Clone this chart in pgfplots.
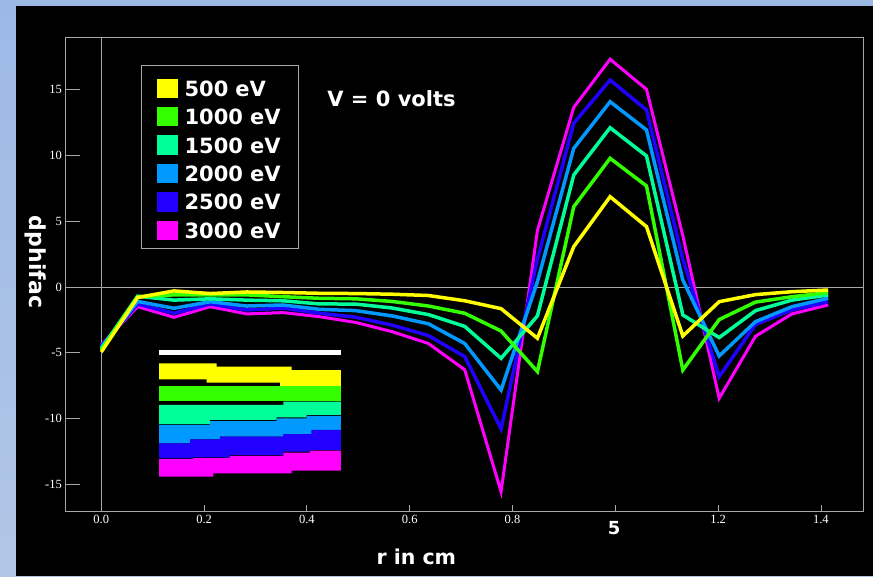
\documentclass[border=0pt]{standalone}
\usepackage{pgfplots}
\pgfplotsset{compat=1.18}
\usepackage{fontspec}
\setmainfont{DejaVu Sans}
\newfontfamily\tickfont{Liberation Serif}
\definecolor{cY}{HTML}{FFFF00}
\definecolor{cG}{HTML}{33FF00}
\definecolor{cS}{HTML}{00FF99}
\definecolor{cA}{HTML}{0099FF}
\definecolor{cB}{HTML}{2200FF}
\definecolor{cM}{HTML}{FF00FF}
\definecolor{bordtop}{HTML}{9CB9E6}
\definecolor{bordbot}{HTML}{B2C6E6}
\definecolor{framec}{HTML}{A8A8A8}
\begin{document}
\begin{tikzpicture}
\useasboundingbox (0,0) rectangle (873pt,576pt);
\shade[top color=bordtop, bottom color=bordbot] (0,0) rectangle (873pt,576pt);
\fill[black] (16pt,0) rectangle (873pt,570pt);
\begin{axis}[
  at={(65.3pt,64.3pt)}, anchor=south west, scale only axis,
  width=798pt, height=474.4pt,
  xmin=-0.07, xmax=1.4825, ymin=-17.1, ymax=19.0,
  axis line style={draw=framec, line width=0.8pt},
  tick style={draw=framec, line width=0.8pt},
  xtick={0,0.2,0.4,0.6,0.8,1.0,1.2,1.4},
  xticklabels={0.0,0.2,0.4,0.6,0.8,{},1.2,1.4},
  ytick={-15,-10,-5,0,5,10,15},
  yticklabels={-15,-10,-5,0,5,10,15},
  tick pos=left,
  major tick length=15pt,
  xtick style={/pgfplots/major tick length=7pt},
  tick label style={font=\tickfont\fontsize{12.5}{13}\selectfont, text=white},
  extra x ticks={0}, extra x tick labels={},
  extra y ticks={0}, extra y tick labels={},
  extra tick style={grid=major, major grid style={draw=framec, line width=0.8pt}, tick style={draw=none}},
  reverse legend,
  legend image code/.code={\fill[#1] (0pt,0pt) rectangle (18pt,16pt);},
  legend style={at={(0.0945,0.9416)}, anchor=north west, draw=framec, line width=0.8pt,
    fill=black, text=white, inner xsep=15.5pt, inner ysep=9pt, row sep=4.6pt,
    font=\bfseries\fontsize{21}{21}\selectfont,
    nodes={text height=22pt, text depth=0pt, inner sep=0pt, text width=98pt, align=left, anchor=base west},
    /tikz/every odd column/.append style={column sep=6.5pt}},
  every axis plot/.append style={line join=miter, miter limit=10},
]
% colour patch artefact
\addplot[fill=white, draw=none, forget plot] coordinates {(0.1123,-4.79) (0.4663,-4.79) (0.4663,-5.175) (0.1123,-5.175)} -- cycle;
\addplot[fill=cY, draw=none, forget plot] coordinates {(0.1123,-5.81) (0.2245,-5.81) (0.2245,-6.06) (0.3704,-6.06) (0.3704,-6.32) (0.4663,-6.32) (0.4663,-7.53) (0.3477,-7.53) (0.3477,-7.28) (0.2051,-7.28) (0.2051,-7.03) (0.1123,-7.03)} -- cycle;
\addplot[fill=cG, draw=none, forget plot] coordinates {(0.1123,-7.53) (0.4663,-7.53) (0.4663,-8.70) (0.1123,-8.70)} -- cycle;
\addplot[fill=cS, draw=none, forget plot] coordinates {(0.1123,-8.98) (0.3541,-8.98) (0.3541,-8.73) (0.4663,-8.73) (0.4663,-9.74) (0.3996,-9.74) (0.3996,-9.92) (0.3412,-9.92) (0.3412,-10.12) (0.2115,-10.12) (0.2115,-10.43) (0.1123,-10.43)} -- cycle;
\addplot[fill=cA, draw=none, forget plot] coordinates {(0.1123,-10.50) (0.2115,-10.50) (0.2115,-10.2) (0.3412,-10.2) (0.3412,-10.0) (0.3996,-10.0) (0.3996,-9.8) (0.4663,-9.8) (0.4663,-10.88) (0.4093,-10.88) (0.4093,-11.19) (0.3541,-11.19) (0.3541,-11.39) (0.2309,-11.39) (0.2309,-11.59) (0.1726,-11.59) (0.1726,-11.90) (0.1123,-11.90)} -- cycle;
\addplot[fill=cB, draw=none, forget plot] coordinates {(0.1123,-11.90) (0.1726,-11.90) (0.1726,-11.59) (0.2309,-11.59) (0.2309,-11.39) (0.3541,-11.39) (0.3541,-11.19) (0.4093,-11.19) (0.4093,-10.88) (0.4663,-10.88) (0.4663,-12.40) (0.4061,-12.40) (0.4061,-12.53) (0.3541,-12.53) (0.3541,-12.79) (0.2504,-12.79) (0.2504,-12.96) (0.1790,-12.96) (0.1790,-13.04) (0.1123,-13.04)} -- cycle;
\addplot[fill=cM, draw=none, forget plot] coordinates {(0.1123,-13.10) (0.1790,-13.10) (0.1790,-13.02) (0.2504,-13.02) (0.2504,-12.85) (0.3541,-12.85) (0.3541,-12.60) (0.4061,-12.60) (0.4061,-12.46) (0.4663,-12.46) (0.4663,-13.98) (0.3704,-13.98) (0.3704,-14.18) (0.2179,-14.18) (0.2179,-14.43) (0.1123,-14.43)} -- cycle;
% data curves
\addplot[cM, line width=3pt] coordinates {
(0,-4.4) (0.0707,-1.5) (0.1414,-2.31) (0.2121,-1.5) (0.2828,-2.05) (0.3536,-1.95) (0.4243,-2.26) (0.4950,-2.7) (0.5657,-3.4) (0.6364,-4.3) (0.7071,-6.3) (0.7778,-15.58) (0.8485,4.3) (0.9192,13.67) (0.9899,17.33) (1.0607,15.04) (1.1314,3.9) (1.2021,-8.47) (1.2728,-3.75) (1.3435,-2.05) (1.4142,-1.37)};
\addlegendentry{3000 eV}
\addplot[cB, line width=3.5pt] coordinates {
(0,-4.5) (0.0707,-1.3) (0.1414,-2.0) (0.2121,-1.29) (0.2828,-1.75) (0.3536,-1.62) (0.4243,-2.0) (0.4950,-2.3) (0.5657,-2.9) (0.6364,-3.7) (0.7071,-5.3) (0.7778,-10.8) (0.8485,2.1) (0.9192,12.46) (0.9899,15.75) (1.0607,13.47) (1.1314,2.1) (1.2021,-6.82) (1.2728,-2.85) (1.3435,-1.75) (1.4142,-1.12)};
\addlegendentry{2500 eV}
\addplot[cA, line width=3.5pt] coordinates {
(0,-4.6) (0.0707,-1.1) (0.1414,-1.62) (0.2121,-1.12) (0.2828,-1.45) (0.3536,-1.37) (0.4243,-1.7) (0.4950,-1.8) (0.5657,-2.2) (0.6364,-2.8) (0.7071,-4.3) (0.7778,-7.84) (0.8485,0.4) (0.9192,10.55) (0.9899,14.1) (1.0607,11.95) (1.1314,0.53) (1.2021,-5.25) (1.2728,-2.64) (1.3435,-1.5) (1.4142,-0.86)};
\addlegendentry{2000 eV}
\addplot[cS, line width=3.5pt] coordinates {
(0,-4.7) (0.0707,-0.7) (0.1414,-1.0) (0.2121,-0.9) (0.2828,-1.0) (0.3536,-1.05) (0.4243,-1.29) (0.4950,-1.3) (0.5657,-1.6) (0.6364,-2.1) (0.7071,-3.0) (0.7778,-5.43) (0.8485,-2.2) (0.9192,8.52) (0.9899,12.12) (1.0607,9.97) (1.1314,-2.13) (1.2021,-3.85) (1.2728,-1.8) (1.3435,-1.0) (1.4142,-0.61)};
\addlegendentry{1500 eV}
\addplot[cG, line width=3.5pt] coordinates {
(0,-4.8) (0.0707,-0.75) (0.1414,-0.6) (0.2121,-0.6) (0.2828,-0.6) (0.3536,-0.74) (0.4243,-0.86) (0.4950,-0.9) (0.5657,-1.1) (0.6364,-1.45) (0.7071,-2.0) (0.7778,-3.35) (0.8485,-6.44) (0.9192,6.11) (0.9899,9.79) (1.0607,7.69) (1.1314,-6.32) (1.2021,-2.48) (1.2728,-1.15) (1.3435,-0.74) (1.4142,-0.43)};
\addlegendentry{1000 eV}
\addplot[cY, line width=3.5pt] coordinates {
(0,-4.95) (0.0707,-0.8) (0.1414,-0.3) (0.2121,-0.5) (0.2828,-0.38) (0.3536,-0.42) (0.4243,-0.48) (0.4950,-0.5) (0.5657,-0.55) (0.6364,-0.65) (0.7071,-1.05) (0.7778,-1.65) (0.8485,-3.9) (0.9192,3.07) (0.9899,6.87) (1.0607,4.59) (1.1314,-3.73) (1.2021,-1.12) (1.2728,-0.58) (1.3435,-0.36) (1.4142,-0.23)};
\addlegendentry{500 eV}
\node[anchor=base, text=white, font=\bfseries\fontsize{21}{21}\selectfont] at (axis cs:0.5646,13.72) {V = 0 volts};
\end{axis}
\node[anchor=base, text=white, font=\bfseries\fontsize{20.5}{21}\selectfont] at (416.3pt,11.7pt) {r in cm};
\node[anchor=base, text=white, font=\bfseries\fontsize{18}{18}\selectfont] at (614.2pt,41.7pt) {5};
\node[rotate=-90, text=white, font=\bfseries\fontsize{22}{22}\selectfont] at (35.3pt,314pt) {dphifac};
\end{tikzpicture}
\end{document}
